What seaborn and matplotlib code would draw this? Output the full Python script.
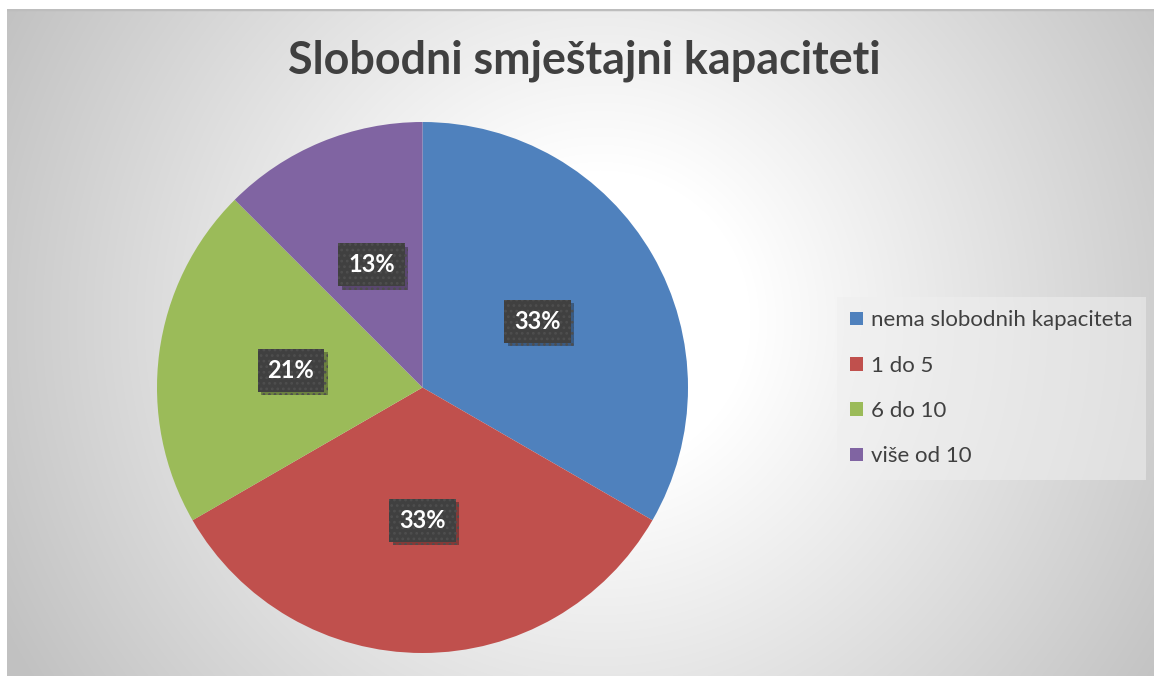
import numpy as np
import matplotlib
matplotlib.use('Agg')
import matplotlib.pyplot as plt
import matplotlib.patheffects as pe
import seaborn as sns

# data
categories = ['nema slobodnih kapaciteta', '1 do 5', '6 do 10', 'više od 10']
counts = [8, 8, 5, 3]
colors = ['#4F81BD', '#C0504D', '#9BBB59', '#8064A2']
title = 'Slobodni smještajni kapaciteti'

sns.set_style('white')
plt.rcParams['font.family'] = ['Lato', 'DejaVu Sans']
plt.rcParams['hatch.linewidth'] = 1.2

W, H = 1154, 676
fig = plt.figure(figsize=(W / 100, H / 100), dpi=100)
fig.patch.set_facecolor('white')

# radial gradient panel behind the chart
bg = fig.add_axes([7 / W, 0, (W - 7) / W, (H - 9) / H])
gx, gy = np.meshgrid(np.arange(7, W), np.arange(9, H))
r = np.hypot(gx - 600, gy - 320)
shade = 1 - 0.24 * np.clip((r - 150) / 520, 0, 1)
bg.imshow(np.dstack([shade] * 3), aspect='auto', extent=(0, 1, 0, 1))
bg.set_xlim(0, 1)
bg.set_ylim(0, 1)
bg.axhline(1, color='#bdbdbd', lw=2.5)
bg.set_axis_off()

# pie
ax = fig.add_axes([157 / W, 23 / H, 531 / W, 531 / H])
ax.set_facecolor('none')
wedges, texts, autotexts = ax.pie(
    counts, colors=colors, startangle=90, counterclock=False,
    radius=1, pctdistance=0.5,
    autopct=lambda p: f'{int(np.floor(p + 0.5 + 1e-9))}%',
    wedgeprops=dict(linewidth=0),
    textprops=dict(color='white', fontsize=17, fontweight='bold'))
ax.set_xlim(-1, 1)
ax.set_ylim(-1, 1)

for t in autotexts:
    t.set_bbox(dict(boxstyle='square,pad=0.42', facecolor='#404040',
                    edgecolor='#4e4e4e', linewidth=0, hatch='...'))
    t.get_bbox_patch().set_path_effects(
        [pe.SimplePatchShadow(offset=(2.5, -2.5), alpha=0.35), pe.Normal()])

fig.text(584 / W, 1 - 61 / H, title, ha='center', va='center',
         fontsize=32.3, fontweight='bold', color='#404040')

leg = fig.legend(wedges, categories, loc='upper left',
                 bbox_to_anchor=(837 / W, 1 - 297 / H),
                 fontsize=16, labelcolor='#404040',
                 handlelength=0.59, handleheight=0.59, handletextpad=0.32,
                 labelspacing=1.14, borderpad=0.6, borderaxespad=0,
                 fancybox=False, frameon=True)
leg.get_frame().set_facecolor('#efefef')
leg.get_frame().set_alpha(0.55)
leg.get_frame().set_edgecolor('none')

fig.savefig('out.png', dpi=100)
